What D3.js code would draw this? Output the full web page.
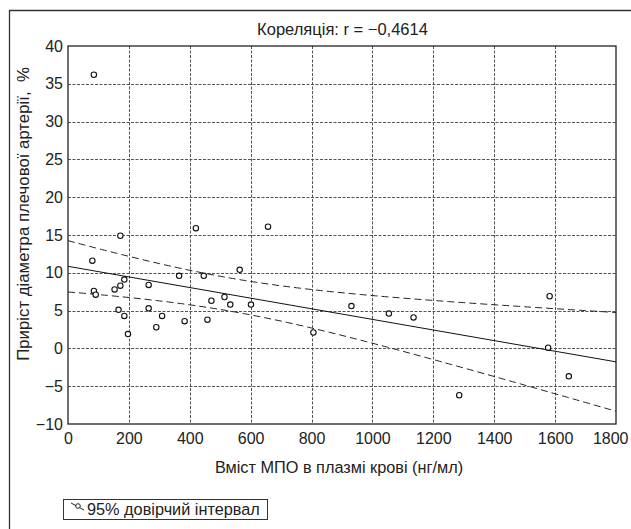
<!DOCTYPE html>
<html><head><meta charset="utf-8">
<script src="https://cdn.jsdelivr.net/npm/d3@7/dist/d3.min.js"></script>
<style>
body{margin:0;background:#fff;}
text{font-family:"Liberation Sans",Arial,sans-serif;fill:#222;}
</style></head>
<body><svg id="c" width="631" height="529"></svg>
<script>
// Data
const mpo = [85,80,172,85,91,153,172,185,166,185,197,265,265,290,309,365,383,420,446,458,471,514,533,564,601,657,806,931,1054,1135,1285,1582,1577,1645];
const growth = [36.2,11.6,14.9,7.6,7.1,7.8,8.3,9.1,5.1,4.3,1.9,8.4,5.3,2.8,4.3,9.6,3.6,15.9,9.6,3.8,6.3,6.8,5.8,10.4,5.8,16.1,2.1,5.6,4.6,4.1,-6.2,6.9,0.1,-3.7];
const xTicks = [0,200,400,600,800,1000,1200,1400,1600,1800];
const yTicks = [-10,-5,0,5,10,15,20,25,30,35,40];
const title = "Кореляція: r = −0,4614";
const xLabel = "Вміст МПО в плазмі крові (нг/мл)";
const yLabel = "Приріст діаметра плечової артерії,\u00a0\u00a0%";
const legendLabel = "95% довірчий інтервал";

const svg = d3.select("#c");
const L=68, R=616, T=46, B=424;
const x = d3.scaleLinear().domain([0,1800]).range([L,R]);
const y = d3.scaleLinear().domain([-10,40]).range([B,T]);

// outer frame
svg.append("path").attr("d","M9.5,529 V10.5 H631").attr("fill","none").attr("stroke","#333").attr("stroke-width",1.3);

// grid
const g = svg.append("g");
g.selectAll(".vx").data(xTicks.slice(1,-1)).enter().append("line")
  .attr("x1",d=>Math.round(x(d))+0.5).attr("x2",d=>Math.round(x(d))+0.5).attr("y1",T).attr("y2",B)
  .attr("stroke","#555").attr("stroke-width",1).attr("stroke-dasharray","3,1.5");
g.selectAll(".hy").data(yTicks.slice(1,-1)).enter().append("line")
  .attr("y1",d=>Math.round(y(d))+0.5).attr("y2",d=>Math.round(y(d))+0.5).attr("x1",L).attr("x2",R)
  .attr("stroke","#555").attr("stroke-width",1).attr("stroke-dasharray","3,1.5");

// regression + 95% CI computed from data
const n = mpo.length;
const mx = d3.mean(mpo), my = d3.mean(growth);
let sxx=0, sxy=0;
for(let i=0;i<n;i++){sxx+=(mpo[i]-mx)**2; sxy+=(mpo[i]-mx)*(growth[i]-my);}
const b1 = sxy/sxx, b0 = my-b1*mx;
let sse=0; for(let i=0;i<n;i++){sse+=(growth[i]-b0-b1*mpo[i])**2;}
const s = Math.sqrt(sse/(n-2));
const tval = 2.0369;
const xs = d3.range(0,1800.1,10);
const half = xv => tval*s*Math.sqrt(1/n + (xv-mx)**2/sxx);
const line = d3.line().x(d=>x(d[0])).y(d=>y(d[1]));
svg.append("path").attr("d",line([[0,b0],[1800,b0+b1*1800]])).attr("fill","none").attr("stroke","#111").attr("stroke-width",1);
svg.append("path").attr("d",line(xs.map(v=>[v,b0+b1*v+half(v)]))).attr("fill","none").attr("stroke","#222").attr("stroke-width",1).attr("stroke-dasharray","7,4");
svg.append("path").attr("d",line(xs.map(v=>[v,b0+b1*v-half(v)]))).attr("fill","none").attr("stroke","#222").attr("stroke-width",1).attr("stroke-dasharray","7,4");

// points
svg.selectAll("circle.pt").data(mpo.map((v,i)=>[v,growth[i]])).enter().append("circle")
  .attr("cx",d=>x(d[0])).attr("cy",d=>y(d[1])).attr("r",2.7)
  .attr("fill","#fff").attr("stroke","#111").attr("stroke-width",1.1);

// plot frame
svg.append("rect").attr("x",L).attr("y",T).attr("width",R-L).attr("height",B-T)
  .attr("fill","none").attr("stroke","#222").attr("stroke-width",1.3);

// axes
const ax = svg.append("g").attr("transform",`translate(0,${B})`)
  .call(d3.axisBottom(x).tickValues(xTicks).tickSize(0).tickPadding(9).tickFormat(d3.format("d")));
ax.select(".domain").remove();
ax.selectAll("text").attr("font-size",16).attr("fill","#222");
ax.selectAll(".tick").filter(d=>d===1800).select("text").attr("text-anchor","end").attr("x",628-R);
const ay = svg.append("g").attr("transform",`translate(${L},0)`)
  .call(d3.axisLeft(y).tickValues(yTicks).tickSize(0).tickPadding(5));
ay.select(".domain").remove();
ay.selectAll("text").attr("font-size",16).attr("fill","#222");

// title & labels
svg.append("text").attr("x",342.5).attr("y",35).attr("text-anchor","middle").attr("font-size",16.5).text(title);
svg.append("text").attr("x",339).attr("y",473).attr("text-anchor","middle").attr("font-size",16.3).text(xLabel);
svg.append("text").attr("transform","translate(29,214) rotate(-90)").attr("text-anchor","middle").attr("font-size",16.8).text(yLabel);

// legend
const lg = svg.append("g");
lg.append("rect").attr("x",63.5).attr("y",499.5).attr("width",204).attr("height",20).attr("fill","#fff").attr("stroke","#333").attr("stroke-width",1);
lg.append("line").attr("x1",71).attr("y1",503).attr("x2",84).attr("y2",510).attr("stroke","#222").attr("stroke-width",1);
lg.append("circle").attr("cx",78).attr("cy",506).attr("r",2.3).attr("fill","#fff").attr("stroke","#222").attr("stroke-width",1);
lg.append("text").attr("x",87).attr("y",515).attr("font-size",16.3).text(legendLabel);
</script></body></html>
